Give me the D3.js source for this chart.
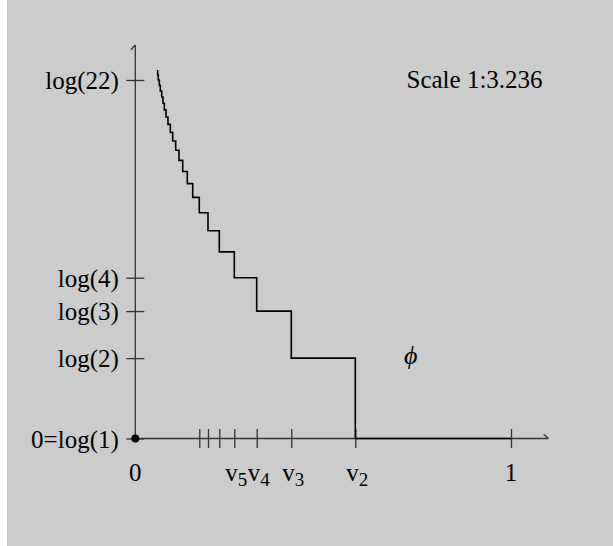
<!DOCTYPE html>
<html>
<head>
<meta charset="utf-8">
<script src="https://cdn.jsdelivr.net/npm/d3@7"></script>
<style>
  html, body { margin: 0; padding: 0; background: #ffffff; }
  svg { display: block; }
  text { font-family: "Liberation Serif", "Times New Roman", serif; fill: #000; }
</style>
</head>
<body>
<script>
// ---- data ----
// break points v_2 ... v_24 (x positions where the step drops)
const vValues = [0.5856, 0.4152, 0.3231, 0.2635, 0.2236, 0.1935, 0.1703, 0.1528,
                 0.1384, 0.1262, 0.1163, 0.1075, 0.0995, 0.0932, 0.0870, 0.0817,
                 0.0772, 0.0737, 0.0703, 0.0665, 0.0639, 0.0612, 0.0596];
const vIndex = d3.range(2, 2 + vValues.length);          // 2 .. 24
const xTickValues = [0.5856, 0.4152, 0.3231, 0.2635, 0.2236, 0.1935, 0.1703, 1];
const xLabelValues = [0, 0.2635, 0.3231, 0.4152, 0.5856, 1];
const xLabels = [["0", ""], ["v", "5"], ["v", "4"], ["v", "3"], ["v", "2"], ["1", ""]];
const yTickValues = [1, 2, 3, 4, 22];
const yTickLabels = ["0=log(1)", "log(2)", "log(3)", "log(4)", "log(22)"];
const scaleText = "Scale 1:3.236";
const phiText = "\u03D5";

const W = 613, H = 546;
const svg = d3.select("body").append("svg").attr("width", W).attr("height", H);
svg.append("rect").attr("x", 7).attr("y", 0).attr("width", W - 7).attr("height", H).attr("fill", "#cccccc");

const x = d3.scaleLinear().domain([0, 1]).range([135.3, 511]);
const y = d3.scaleLog().domain([1, 22]).range([438.5, 80]);
const x0 = x(0), y0 = y(1);
const axisColor = "#333333";

// axis lines with half arrow heads
const xEnd = x.range()[1] + 37.5, yTop = 45;
svg.append("path")
  .attr("d", `M${x0},${y0}H${xEnd}M${xEnd},${y0}L${xEnd - 4.8},${y0 - 4.3}`)
  .attr("fill", "none").attr("stroke", axisColor).attr("stroke-width", 1.3);
svg.append("path")
  .attr("d", `M${x0},${y0}V${yTop}M${x0},${yTop}L${x0 - 4.3},${yTop + 4.8}`)
  .attr("fill", "none").attr("stroke", axisColor).attr("stroke-width", 1.3);

// x axis ticks
const xAxis = d3.axisBottom(x).tickValues(xTickValues).tickFormat("").tickSize(0);
const gx = svg.append("g").attr("transform", `translate(0,${y0})`).call(xAxis);
gx.select(".domain").remove();
gx.selectAll(".tick line").attr("y1", -9.5).attr("y2", 9.5)
  .attr("stroke", axisColor).attr("stroke-width", 1.3);

// x labels
const xl = svg.append("g").selectAll("text").data(xLabelValues).join("text")
  .attr("x", (d, i) => x(d) + (xLabels[i][1] ? 2 : 0))
  .attr("y", y0 + 42.5)
  .attr("text-anchor", "middle")
  .attr("font-size", 25);
xl.append("tspan").text((d, i) => xLabels[i][0]);
xl.append("tspan").attr("font-size", 19).attr("dy", 4.7).text((d, i) => xLabels[i][1]);

// y axis ticks
const yAxis = d3.axisLeft(y).tickValues(yTickValues)
  .tickFormat((d, i) => yTickLabels[i]).tickSize(0).tickPadding(16.5);
const gy = svg.append("g").attr("transform", `translate(${x0},0)`).call(yAxis);
gy.select(".domain").remove();
gy.selectAll(".tick line").attr("x1", -9).attr("x2", 9)
  .attr("stroke", axisColor).attr("stroke-width", 1.3);
gy.selectAll(".tick text")
  .attr("font-size", 25).attr("font-family", "Liberation Serif").attr("fill", "#000")
  .attr("dy", "0.35em");

// step function
const pts = vIndex.map((n, i) => [vValues[i], n]).reverse();
pts.push([1, 1]);
const line = d3.line().x(d => x(d[0])).y(d => y(d[1])).curve(d3.curveStepBefore);
svg.append("path").datum(pts).attr("d", line)
  .attr("fill", "none").attr("stroke", "#000").attr("stroke-width", 1.6);

// origin dot
svg.append("circle").attr("cx", x0).attr("cy", y0).attr("r", 4).attr("fill", "#000");

// annotations
svg.append("text").attr("x", 406.5).attr("y", 88).attr("font-size", 25).text(scaleText);
svg.append("text").attr("x", 404).attr("y", 364).attr("font-size", 26)
  .attr("font-style", "italic").text(phiText);
</script>
</body>
</html>
